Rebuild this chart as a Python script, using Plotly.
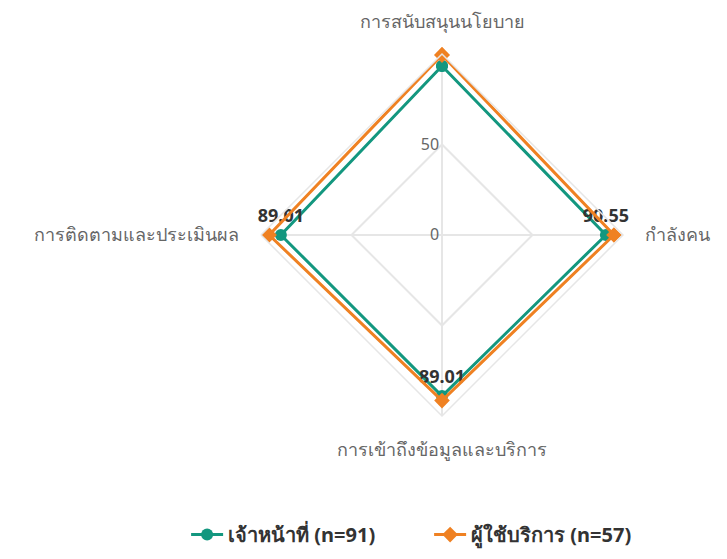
import plotly.graph_objects as go

categories = ["การสนับสนุนนโยบาย", "กำลังคน", "การเข้าถึงข้อมูลและบริการ", "การติดตามและประเมินผล"]
staff_values = [93.4, 90.55, 89.01, 89.01]
user_values = [99.5, 95.0, 91.5, 95.5]
staff_labels = ["", "90.55", "89.01", "89.01"]
series_names = ["เจ้าหน้าที่ (n=91)", "ผู้ใช้บริการ (n=57)"]
radial_ticks = [0, 50]

TEAL = "#13977f"
ORANGE = "#ef8122"
FONT = "Noto Sans, Tahoma, sans-serif"

def closed(v):
    return list(v) + [v[0]]

fig = go.Figure()
fig.add_trace(go.Scatterpolar(
    r=closed(staff_values), theta=closed(categories),
    mode="lines+markers+text", name=series_names[0],
    line=dict(color=TEAL, width=3),
    marker=dict(color=TEAL, size=12, symbol="circle"),
    text=closed(staff_labels), textposition="top center",
    textfont=dict(family=FONT, size=18, color="#333333", weight="bold"),
))
fig.add_trace(go.Scatterpolar(
    r=closed(user_values), theta=closed(categories),
    mode="lines+markers", name=series_names[1],
    line=dict(color=ORANGE, width=3),
    marker=dict(color=ORANGE, size=12, symbol="diamond"),
))

cx, cy, R = 434, 227, 181
fig.update_layout(
    width=727, height=559,
    margin=dict(l=0, r=0, t=0, b=0, autoexpand=False),
    paper_bgcolor="white",
    font=dict(family=FONT, color="#666666"),
    polar=dict(
        domain=dict(x=[(cx - R)/727, (cx + R)/727], y=[(559 - cy - R)/559, (559 - cy + R)/559]),
        gridshape="linear",
        bgcolor="white",
        radialaxis=dict(
            range=[0, 100], tickvals=radial_ticks, angle=90, tickangle=90,
            showline=False, gridcolor="#e6e6e6", gridwidth=1.5,
            tickfont=dict(size=16, color="#666666", family=FONT),
            ticks="", side="counterclockwise",
        ),
        angularaxis=dict(
            rotation=90, direction="clockwise",
            linecolor="#e6e6e6", linewidth=1.5,
            gridcolor="#e6e6e6", gridwidth=1.5,
            tickfont=dict(size=18, color="#666666", family=FONT),
            ticks="outside", ticklen=18, tickcolor="rgba(0,0,0,0)",
        ),
    ),
    legend=dict(
        orientation="h", x=0.245, xanchor="left", y=0.058, yanchor="middle",
        font=dict(size=20, color="#333333", family=FONT, weight="bold"),
        itemwidth=32, entrywidth=196, entrywidthmode="pixels",
    ),
)

fig.write_html("out.html")
